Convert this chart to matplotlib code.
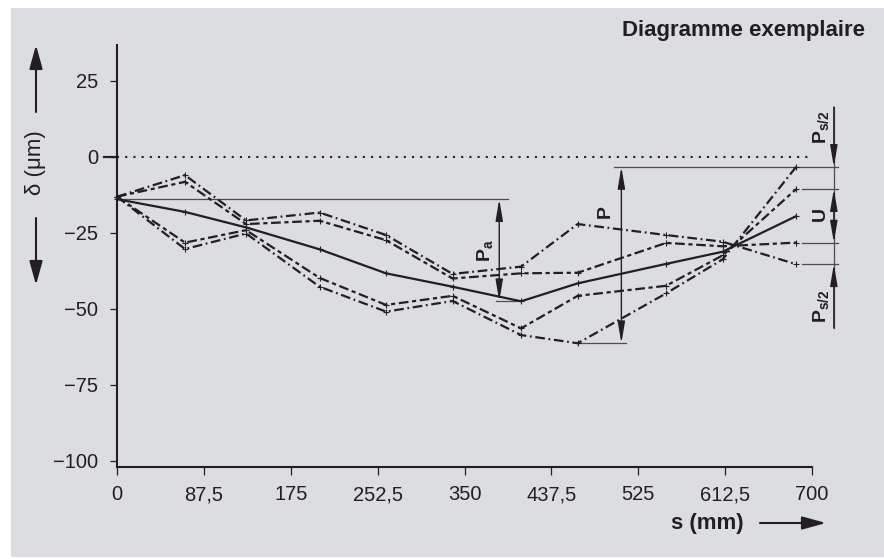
import matplotlib
matplotlib.use("Agg")
import matplotlib.pyplot as plt
from matplotlib.patches import Rectangle

plt.rcParams["font.family"] = ["Liberation Sans", "DejaVu Sans"]
plt.rcParams["mathtext.fontset"] = "custom"
plt.rcParams["mathtext.rm"] = "Liberation Sans"
plt.rcParams["mathtext.bf"] = "Liberation Sans:bold"
plt.rcParams["mathtext.it"] = "Liberation Sans:italic"
plt.rcParams["lines.scale_dashes"] = False

INK = "#231f20"
BG = "#dcdde0"
REF = "#4d4d4d"

# measuring positions along the travel s (mm)
positions = [0, 68.5, 130, 204, 271, 338, 407, 464, 553, 610, 684]

# deviations delta (um) of the individual runs and their mean
mean_run = [-14.0, -18.2, -23.3, -30.5, -38.4, -42.8, -47.6, -41.7, -35.3, -31.3, -19.6]
run_a = [-13.2, -6.1, -21.0, -18.4, -25.8, -38.6, -36.2, -22.2, -25.8, -28.0, -35.4]
run_b = [-13.2, -8.3, -22.2, -21.1, -27.5, -40.1, -38.4, -38.2, -28.4, -29.5, -28.3]
run_c = [-13.2, -30.4, -25.3, -42.8, -51.0, -47.5, -58.7, -61.4, -45.0, -33.8, -3.4]
run_d = [-13.2, -28.3, -24.2, -39.9, -48.8, -45.8, -56.5, -45.8, -42.5, -32.5, -10.7]

x_ticks = [0, 87.5, 175, 262.5, 350, 437.5, 525, 612.5, 700]
x_tick_labels = ["0", "87,5", "175", "252,5", "350", "437,5", "525", "612,5", "700"]
y_ticks = [25, 0, -25, -50, -75, -100]
y_tick_labels = ["25", "0", "\u221225", "\u221250", "\u221275", "\u2212100"]

DASH_DOT = (0, (7.0, 2.6, 1.3, 2.6))
LONG_SHORT = (0, (7.0, 2.6, 3.0, 2.6))

W, H = 884, 559
fig = plt.figure(figsize=(W / 100, H / 100), dpi=100)
fig.patch.set_facecolor("white")
fig.patches.append(Rectangle((10.5 / W, 2 / H), 1 - 10.5 / W, 549 / H,
                             transform=fig.transFigure, facecolor=BG,
                             edgecolor="none", zorder=-10))

ax = fig.add_axes([117 / W, (H - 467) / H, 695 / W, 422 / H])
ax.set_facecolor("none")
ax.set_xlim(0, 700)
ax.set_ylim(-102.1, 36.7)

for side in ("top", "right"):
    ax.spines[side].set_visible(False)
for side in ("left", "bottom"):
    ax.spines[side].set_linewidth(1.5)
    ax.spines[side].set_color(INK)

ax.set_xticks(x_ticks)
ax.set_xticklabels(x_tick_labels)
ax.set_yticks(y_ticks)
ax.set_yticklabels(y_tick_labels)
ax.tick_params(axis="x", direction="out", length=6, width=0.9, pad=7,
               labelsize=14.5, colors=INK)
ax.tick_params(axis="y", direction="out", length=5, width=0.9, pad=8.5,
               labelsize=14.5, colors=INK)

# zero line and its longer tick
ax.plot([0, 696], [0, 0], color=INK, lw=1.5, ls=(0, (1.5, 4.4)),
        dash_capstyle="butt", zorder=2)
ax.plot([-13, 0], [0, 0], color=INK, lw=1.6, clip_on=False, zorder=3)

mk = dict(marker="+", ms=5, mew=0.8, mec=INK, color=INK, lw=1.6, clip_on=False)
ax.plot(positions, mean_run, ls="-", zorder=5, **mk)
ax.plot(positions, run_a, ls=DASH_DOT, zorder=4, **mk)
ax.plot(positions, run_b, ls=LONG_SHORT, zorder=4, **mk)
ax.plot(positions, run_c, ls=DASH_DOT, zorder=4, **mk)
ax.plot(positions, run_d, ls=LONG_SHORT, zorder=4, **mk)


def arrow(x0, y0, x1, y1, both=False, lw=1.0, hl=1.3, hw=0.22):
    style = ("<|-|>" if both else "-|>") + f",head_length={hl},head_width={hw}"
    ax.annotate("", xy=(x1, y1), xytext=(x0, y0),
                arrowprops=dict(arrowstyle=style, color=INK, lw=lw,
                                shrinkA=0, shrinkB=0, mutation_scale=10),
                annotation_clip=False)


def ref_line(x0, x1, y):
    ax.plot([x0, x1], [y, y], color=REF, lw=0.9, clip_on=False, zorder=3)


start = mean_run[0]
low = min(mean_run)
top_c = run_c[-1]
low_c = min(run_c)
x_low_c = positions[run_c.index(low_c)]
x_low_mean = positions[mean_run.index(low)]

# Pa : span of the mean run
ref_line(0, 394, start)
ref_line(382, x_low_mean - 4, low)
arrow(385, start, 385, low, both=True)
ax.text(371, (start + low) / 2, r"$\mathbf{P_a}$", rotation=90, ha="center",
        va="center", fontsize=14, color=INK)

# P : total span
ref_line(501, 726, top_c)
ref_line(x_low_c + 2, 513, low_c)
arrow(508, top_c, 508, low_c, both=True)
ax.text(493, -18.5, r"$\mathbf{P}$", rotation=90, ha="center", va="center",
        fontsize=14, color=INK)

# U and Ps/2 at the end of travel
ends = sorted([run_a[-1], run_b[-1], run_c[-1], run_d[-1]], reverse=True)
for v in ends[1:]:
    ref_line(690, 726, v)
ax.plot([722, 722], [16.3, -56.4], color=REF, lw=0.9, clip_on=False, zorder=3)
arrow(722, 16.3, 722, ends[0])
arrow(722, ends[1], 722, ends[2], both=True)
arrow(722, -56.4, 722, ends[3])
ax.text(709.5, 9.7, r"$\mathbf{P_{s/2}}$", rotation=90, ha="center",
        va="center", fontsize=14, color=INK)
ax.text(709.5, (ends[1] + ends[2]) / 2, r"$\mathbf{U}$", rotation=90,
        ha="center", va="center", fontsize=14, color=INK)
ax.text(709.5, -49.2, r"$\mathbf{P_{s/2}}$", rotation=90, ha="center",
        va="center", fontsize=14, color=INK)

# axis captions with direction arrows
fig.text(36 / W, (H - 163) / H, "\u03b4 (\u03bcm)", rotation=90, ha="center",
         va="center", fontsize=16, color=INK)
fig.text(707 / W, (H - 523) / H, "s (mm)", ha="center", va="center",
         fontsize=16, fontweight="bold", color=INK)
big = "-|>,head_length=1.45,head_width=0.4"
for (x0, y0, x1, y1) in [(36, H - 112, 36, H - 45), (36, H - 218, 36, H - 285),
                         (760, H - 523, 826, H - 523)]:
    fig.add_artist(matplotlib.patches.FancyArrowPatch(
        (x0 / W, y0 / H), (x1 / W, y1 / H), transform=fig.transFigure,
        arrowstyle=big, mutation_scale=10, color=INK, lw=1.5,
        shrinkA=0, shrinkB=0))

fig.text(865 / W, (H - 36) / H, "Diagramme exemplaire", ha="right",
         va="baseline", fontsize=16, fontweight="bold", color=INK)

fig.savefig("out.png", dpi=100)
